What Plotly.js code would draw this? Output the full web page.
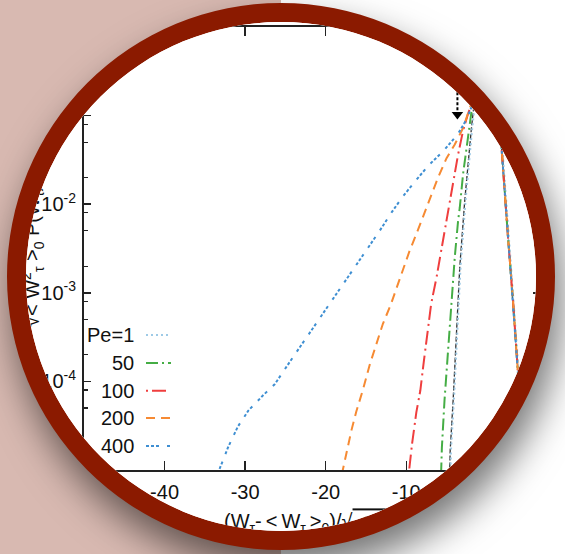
<!DOCTYPE html>
<html>
<head>
<meta charset="utf-8">
<script src="https://cdn.plot.ly/plotly-3.0.1.min.js"></script>
<style>
  html, body { margin:0; padding:0; width:565px; height:554px; overflow:hidden;
    background: linear-gradient(to right, #d8b9b1 0px, #d8b9b1 281px, #ffffff 281px); }
  #ring { position:absolute; left:7px; top:3px; width:548px; height:547px; box-sizing:border-box;
    border:19px solid #8b1a00; border-radius:50%; overflow:hidden; background:#fff;
    box-shadow: 6px 20px 38px rgba(0,0,0,0.55); }
  #plot { position:absolute; left:-26px; top:-22px; width:565px; height:554px; }
</style>
</head>
<body>
<div id="ring"><div id="plot"></div></div>
<script>
// ---------- data ----------
const legendLabels = ['Pe=1', '50', '100', '200', '400'];

const xPe1 = [-4.52, -4.45, -4.08, -3.67, -3.26, -2.64, -2.23, -1.81, -1.53, -0.8, 0.0, 0.8, 1.9, 2.7, 3.35, 4.0, 4.7];
const yPe1 = [8.9e-6, 1.66e-5, 6.17e-5, 3.47e-4, 1.95e-3, 1.10e-2, 3.09e-2, 7.24e-2, 0.123, 0.316, 0.398, 0.28, 4.68e-2, 4.57e-3, 8.13e-4, 1.12e-4, 8.9e-6];

const xGauss = [-4.62, -4.55, -4.18, -3.77, -3.36, -2.74, -2.33, -1.91, -1.63, -0.8, 0.0, 0.8, 1.8, 2.6, 3.25, 3.9, 4.6];
const yGauss = [8.9e-6, 1.66e-5, 6.17e-5, 3.47e-4, 1.95e-3, 1.10e-2, 3.09e-2, 7.24e-2, 0.123, 0.316, 0.398, 0.28, 4.68e-2, 4.57e-3, 8.13e-4, 1.12e-4, 8.9e-6];

const xPe50 = [-5.68, -5.58, -5.25, -4.8, -4.4, -3.98, -3.57, -3.36, -2.95, -2.53, -2.2, -1.9, -1.0, 0.0, 1.0, 1.8, 2.6, 3.25, 3.9, 4.5];
const yPe50 = [8.9e-6, 1.78e-5, 6.17e-5, 2.24e-4, 8.13e-4, 2.51e-3, 6.46e-3, 9.12e-3, 2.19e-2, 4.37e-2, 7.24e-2, 0.112, 0.24, 0.39, 0.158, 4.68e-2, 4.57e-3, 8.13e-4, 1.12e-4, 1.58e-5];

const xPe100 = [-9.7, -9.3, -8.75, -8.25, -7.8, -7.2, -6.9, -6.25, -5.45, -4.8, -4.2, -3.57, -2.95, -2.33, -1.2, 0.0, 1.0, 1.8, 2.6, 3.25, 3.9, 4.5];
const yPe100 = [8.9e-6, 1.91e-5, 4.47e-5, 7.94e-5, 1.74e-4, 4.27e-4, 7.59e-4, 1.48e-3, 3.89e-3, 9.12e-3, 1.82e-2, 3.63e-2, 6.76e-2, 0.105, 0.2, 0.38, 0.158, 4.68e-2, 4.57e-3, 8.13e-4, 1.12e-4, 1.58e-5];

const xPe200 = [-18.0, -17.4, -16.8, -16.2, -15.4, -14.5, -13.6, -12.9, -11.95, -11.2, -10.4, -9.6, -8.5, -7.3, -6.05, -5.0, -4.0, -2.95, -2.1, -1.0, 0.0, 1.0, 1.8, 2.6, 3.25, 3.9, 4.5];
const yPe200 = [8.9e-6, 1.66e-5, 2.82e-5, 4.57e-5, 7.94e-5, 1.58e-4, 2.75e-4, 4.47e-4, 7.24e-4, 1.15e-3, 1.86e-3, 2.95e-3, 5.25e-3, 1.0e-2, 2.0e-2, 3.31e-2, 4.68e-2, 7.24e-2, 0.123, 0.224, 0.38, 0.158, 4.68e-2, 4.57e-3, 8.13e-4, 1.12e-4, 1.58e-5];

const xPe400 = [-33.4, -32.1, -30.9, -29.6, -27.8, -26.3, -24.9, -23.4, -22.0, -20.5, -19.1, -17.6, -16.2, -14.7, -13.3, -11.8, -10.4, -8.7, -7.1, -5.4, -3.6, -2.5, -1.9, -1.0, 0.0, 1.0, 1.8, 2.6, 3.25, 3.9, 4.5];
const yPe400 = [9.1e-6, 1.82e-5, 3.09e-5, 4.68e-5, 6.92e-5, 9.33e-5, 1.45e-4, 2.29e-4, 3.47e-4, 5.50e-4, 8.51e-4, 1.32e-3, 2.04e-3, 3.24e-3, 5.01e-3, 8.13e-3, 1.23e-2, 1.91e-2, 2.82e-2, 3.98e-2, 6.17e-2, 9.12e-2, 0.123, 0.2, 0.355, 0.158, 4.68e-2, 4.57e-3, 8.13e-4, 1.12e-4, 1.58e-5];

// marker arrow (dotted shaft with head)
const arrowX = [-3.65, -3.65];
const arrowY = [0.4, 0.112];
const arrowHeadX = [-3.65];
const arrowHeadY = [0.103];

const xTickVals = [-50, -40, -30, -20, -10, 0];
const xTickText = ['-50', '-40', '-30', '-20', '-10', '0'];
const yTickVals = [1e-5, 1e-4, 1e-3, 1e-2, 1e-1, 1];
const yTickText = ['10<sup>-5</sup>', '10<sup>-4</sup>', '10<sup>-3</sup>', '10<sup>-2</sup>', '10<sup>-1</sup>', '10<sup>0</sup>'];
const yMinorVals = [2e-5, 5e-5, 8e-5, 2e-4, 5e-4, 8e-4, 2e-3, 5e-3, 8e-3, 2e-2, 5e-2, 8e-2, 2e-1, 5e-1, 8e-1];

// ---------- styling ----------
const FONT = "'Liberation Sans Narrow', 'Arial Narrow', 'Liberation Sans', Arial, sans-serif";
const W = 565, H = 554, ML = 84, MR = 25, MT = 27, MB = 84;
const PW = W - ML - MR, PH = H - MT - MB;
const px = v => (v - ML) / PW;
const py = v => (H - MB - v) / PH;

const styles = [
  {color: '#9ecae6', dash: '2px,3px'},
  {color: '#45ad45', dash: '12px,4px,2px,4px'},
  {color: '#ef3e3e', dash: '2px,4px,14px,5px'},
  {color: '#f68a33', dash: '9px,6px'},
  {color: '#3f8fd2', dash: '3px,2px,3px,2px,3px,8px'}
];

const series = [[xPe1, yPe1], [xPe50, yPe50], [xPe100, yPe100], [xPe200, yPe200], [xPe400, yPe400]];

const traces = [];
traces.push({x: xGauss, y: yGauss, mode: 'lines', line: {color: '#333', width: 1.3, dash: '5px,2px'}, hoverinfo: 'skip'});
series.forEach((s, i) => {
  traces.push({x: s[0], y: s[1], mode: 'lines', name: legendLabels[i],
    line: {color: styles[i].color, width: 2, dash: styles[i].dash}});
});
traces.push({x: arrowX, y: arrowY, mode: 'lines', line: {color: '#000', width: 2, dash: '3px,2px'}, hoverinfo: 'skip'});
traces.push({x: arrowHeadX, y: arrowHeadY, mode: 'markers', marker: {symbol: 'triangle-down', size: 10, color: '#000'}, hoverinfo: 'skip'});

// legend (right-aligned labels with line samples)
const rowsY = [335, 363, 390.7, 418, 446];
const shapes = [];
const annotations = [];
legendLabels.forEach((lab, i) => {
  annotations.push({xref: 'paper', yref: 'paper', x: px(136), y: py(rowsY[i]), text: lab, showarrow: false,
    xanchor: 'right', yanchor: 'middle', font: {family: FONT, size: 20, color: '#111'}});
  shapes.push({type: 'line', xref: 'paper', yref: 'paper', x0: px(146), x1: px(171), y0: py(rowsY[i]), y1: py(rowsY[i]),
    line: {color: styles[i].color, width: 2, dash: styles[i].dash}});
});

annotations.push({xref: 'paper', yref: 'paper', x: px(32), y: py(256), textangle: -90, showarrow: false,
  xanchor: 'center', yanchor: 'middle',
  text: '√< W<sup>2</sup><sub>τ</sub> ><sub>0</sub> P(W<sub>τ</sub>)', font: {family: FONT, size: 20, color: '#111'}});
annotations.push({xref: 'paper', yref: 'paper', x: px(222), y: py(521), showarrow: false,
  xanchor: 'left', yanchor: 'middle',
  text: '(W<sub>τ</sub>-\u2009<\u2009W<sub>τ</sub>\u2009><sub>0</sub>)/√<span style="text-decoration:overline">\u2009<\u2009W<sup>2</sup><sub>τ</sub>\u2009><sub>0</sub></span>',
  font: {family: FONT, size: 20, color: '#111'}});

const layout = {
  width: W, height: H,
  margin: {l: ML, r: MR, t: MT, b: MB, pad: 0},
  paper_bgcolor: '#ffffff', plot_bgcolor: '#ffffff',
  showlegend: false,
  font: {family: FONT, size: 20, color: '#111'},
  xaxis: {type: 'linear', range: [-50, 6.6], showgrid: false, zeroline: false,
    showline: true, linecolor: '#222', linewidth: 2, mirror: 'ticks',
    ticks: 'inside', ticklen: 9, tickwidth: 1.5, tickcolor: '#222',
    tickmode: 'array', tickvals: xTickVals, ticktext: xTickText, ticklabelstandoff: 3,
    tickfont: {family: FONT, size: 20, color: '#111'}},
  yaxis: {type: 'log', range: [-5, 0], showgrid: false, zeroline: false,
    showline: true, linecolor: '#222', linewidth: 2, mirror: 'ticks',
    ticks: 'inside', ticklen: 7, tickwidth: 1.5, tickcolor: '#222',
    tickmode: 'array', tickvals: yTickVals, ticktext: yTickText, ticklabelstandoff: 2,
    minor: {tickmode: 'array', tickvals: yMinorVals, ticks: 'inside', ticklen: 4, tickwidth: 1.2, tickcolor: '#222'},
    tickfont: {family: FONT, size: 20, color: '#111'}},
  shapes: shapes,
  annotations: annotations
};

Plotly.newPlot('plot', traces, layout, {displayModeBar: false, staticPlot: true});
</script>
</body>
</html>
